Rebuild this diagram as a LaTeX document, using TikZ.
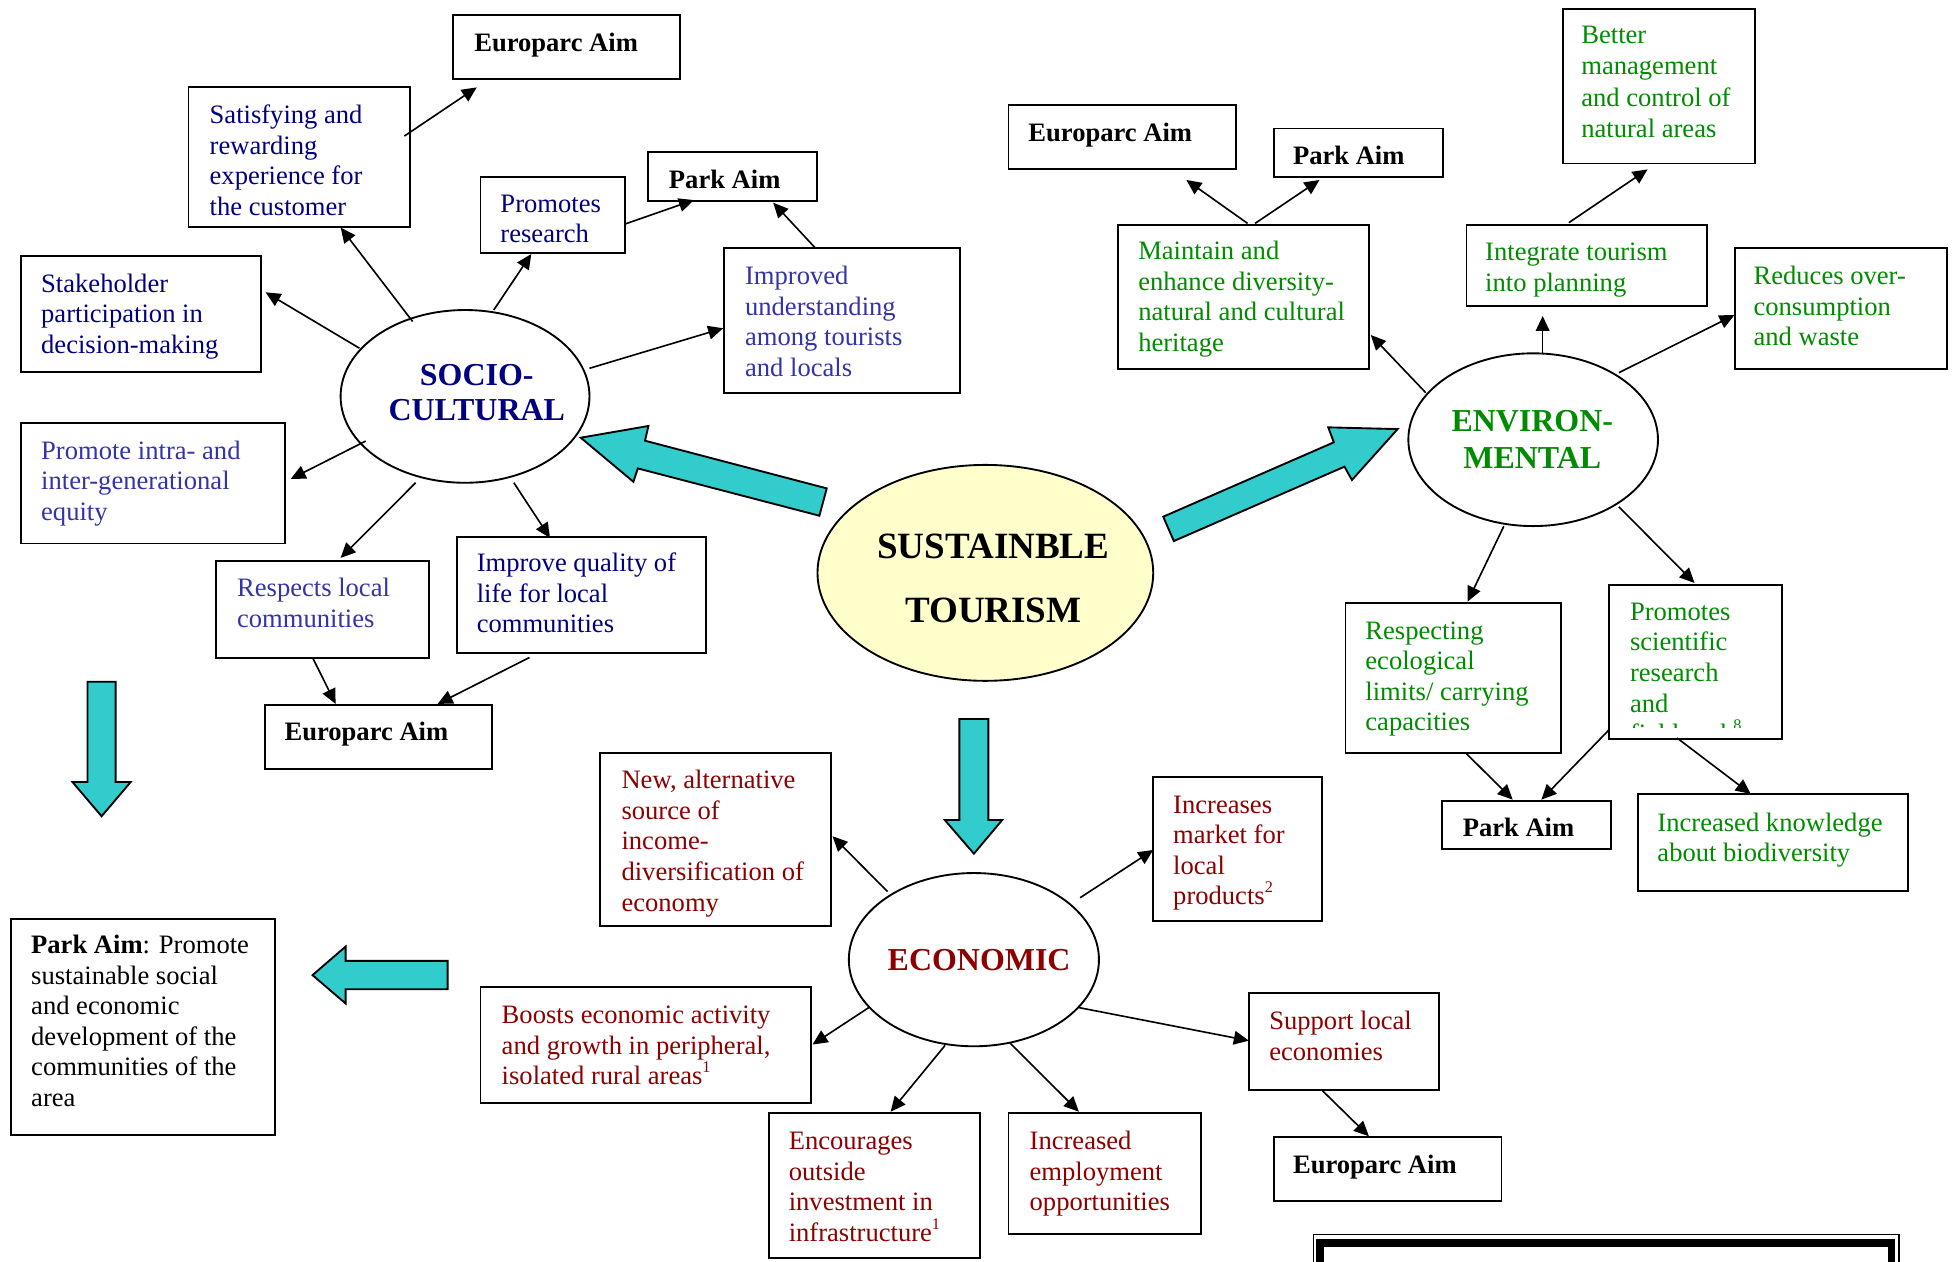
\documentclass[tikz,border=0pt]{standalone}
\usepackage{fontspec}
\setmainfont{Liberation Serif}
\usetikzlibrary{arrows.meta,shapes.geometric}
\definecolor{navy}{RGB}{0,0,128}
\definecolor{lblue}{RGB}{51,51,170}
\definecolor{grn}{RGB}{0,140,0}
\definecolor{dred}{RGB}{140,0,0}
\definecolor{cyanA}{RGB}{51,204,204}
\definecolor{yel}{RGB}{255,255,204}
\newcommand\mkbox[5]{\node[box,minimum width={(#4-#2)*1pt},minimum height={(#5-#3)*1pt}] (#1) at (#2,#3) {};}
\newcommand\sups[1]{\raisebox{0.45em}{\fontsize{13}{13}\selectfont #1}}
\begin{document}
\begin{tikzpicture}[x=1pt,y=-1pt,
  box/.style={draw,line width=1.5pt,inner sep=0pt,outer sep=0pt,anchor=north west,fill=white},
  txt/.style={anchor=base west,inner sep=0pt,outer sep=0pt,align=left,font=\fontsize{21.3}{24.5}\selectfont},
  btxt/.style={txt,font=\fontsize{21.3}{24.5}\selectfont\bfseries},
  ell/.style={draw,ellipse,line width=1.5pt,inner sep=0pt,outer sep=0pt,fill=white},
  etxt/.style={anchor=base,inner sep=0pt,align=center,font=\fontsize{25.6}{28}\selectfont\bfseries},
  conn/.style={line width=1.3pt,-{Triangle[length=12pt,width=11pt]}},
  bigarrow/.style={draw,line width=1.5pt,fill=cyanA,line join=miter}
]
\useasboundingbox (0,0) rectangle (1568,1011);
\clip (0,0) rectangle (1568,1011);

% ---------- ellipses ----------
\node[ell,minimum width=199.4pt,minimum height=138.4pt] (socio) at (372.6,317.6) {};
\node[ell,minimum width=200pt,minimum height=138.4pt] (env) at (1228.4,352.3) {};
\node[ell,minimum width=200.4pt,minimum height=138.8pt] (econ) at (780.3,768.9) {};
\node[ell,fill=yel,minimum width=269pt,minimum height=173pt] (tour) at (789.5,459) {};

% (multi-line nodes: the base anchor is the baseline of the last line)
\node[etxt,text=navy] (socio-t) at (382,337) {SOCIO-\\CULTURAL};
\node[etxt,text=grn,font=\fontsize{25.6}{30.3}\selectfont\bfseries] (env-t) at (1227.7,375.7) {ENVIRON-\\MENTAL};
\node[etxt,text=dred] (econ-t) at (784.5,777.4) {ECONOMIC};
\node[etxt,font=\fontsize{29.7}{51.3}\selectfont\bfseries] (tour-t) at (795.9,498.6) {SUSTAINBLE\\TOURISM};

% ---------- boxes ----------
\mkbox{eu1}{363}{12}{545}{63.5}
\mkbox{sat}{151}{70}{328.5}{182}
\mkbox{res}{385}{142}{501}{202.5}
\mkbox{park1}{519}{122}{654.5}{161}
\mkbox{stake}{16.5}{205}{209}{298}
\mkbox{impr}{580}{199}{769.5}{315}
\mkbox{intra}{16.5}{339}{228}{435.5}
\mkbox{resp}{173}{449.5}{344}{527}
\mkbox{qual}{366}{430}{566}{523}
\mkbox{eu2}{212}{565}{394}{616}
\mkbox{eu3}{808}{84}{990.5}{135.5}
\mkbox{park2}{1020.5}{103}{1156}{142}
\mkbox{better}{1252}{7}{1406}{131}
\mkbox{maint}{896}{180}{1097}{296}
\mkbox{integ}{1175}{180}{1368}{245.5}
\mkbox{reduc}{1390}{199}{1560}{296}
\mkbox{respg}{1078}{483}{1251}{603.5}
\mkbox{prosci}{1289}{469}{1428}{592}
\mkbox{park3}{1155.5}{641.5}{1290.5}{680}
\mkbox{know}{1312.5}{636.5}{1529}{714}
\mkbox{newalt}{481}{603}{666}{742}
\mkbox{incr}{924}{622.5}{1059.5}{738}
\mkbox{boost}{385}{791}{650}{884}
\mkbox{enc}{616}{892}{785.5}{1008}
\mkbox{empl}{808}{891.5}{962.5}{988.5}
\mkbox{supp}{1001}{795.5}{1153}{873}
\mkbox{eu4}{1020.5}{911}{1203}{962.5}
\mkbox{parkL}{8.5}{736.5}{220.5}{909.5}

% ---------- box texts ----------
\node[btxt] (eu1-t) at (380,41) {Europarc Aim};
\node[txt,text=navy] (sat-t) at (168,172.5) {Satisfying and\\rewarding\\experience for\\the customer};
\node[txt,text=navy] (res-t) at (401,194.5) {Promotes\\research};
\node[btxt] (park1-t) at (536,151) {Park Aim};
\node[txt,text=navy] (stake-t) at (33,283) {Stakeholder\\participation in\\decision-making};
\node[txt,text=lblue] (impr-t) at (597,301.5) {Improved\\understanding\\among tourists\\and locals};
\node[txt,text=lblue] (intra-t) at (33,417) {Promote intra- and\\inter-generational\\equity};
\node[txt,text=lblue] (resp-t) at (190,502.5) {Respects local\\communities};
\node[txt,text=navy] (qual-t) at (382,507) {Improve quality of\\life for local\\communities};
\node[btxt] (eu2-t) at (228,593.5) {Europarc Aim};

\node[btxt] (eu3-t) at (824,113) {Europarc Aim};
\node[btxt] (park2-t) at (1036,132) {Park Aim};
\node[txt,text=grn,font=\fontsize{21.3}{25}\selectfont] (better-t) at (1267,110) {Better\\management\\and control of\\natural areas};
\node[txt,text=grn] (maint-t) at (912,281.5) {Maintain and\\enhance diversity-\\natural and cultural\\heritage};
\node[txt,text=grn] (integ-t) at (1190,233.5) {Integrate tourism\\into planning};
\node[txt,text=grn] (reduc-t) at (1405,277) {Reduces over-\\consumption\\and waste};
\node[txt,text=grn] (respg-t) at (1094,585.5) {Respecting\\ecological\\limits/ carrying\\capacities};
\begin{scope}
\clip (1289,469) rectangle (1428,582.5);
\node[txt,text=grn] (prosci-t) at (1306,595) {Promotes\\scientific\\research\\and\\fieldwork\sups{8}};
\end{scope}
\node[btxt] (park3-t) at (1172,670) {Park Aim};
\node[txt,text=grn] (know-t) at (1328,690.5) {Increased knowledge\\about biodiversity};

\node[txt,text=dred] (newalt-t) at (498,730) {New, alternative\\source of\\income-\\diversification of\\economy};
\node[txt,text=dred] (incr-t) at (940,725) {Increases\\market for\\local\\products\sups{2}};
\node[txt,text=dred] (boost-t) at (402,869) {Boosts economic activity\\and growth in peripheral,\\isolated rural areas\sups{1}};
\node[txt,text=dred] (enc-t) at (632,994.5) {Encourages\\outside\\investment in\\infrastructure\sups{1}};
\node[txt,text=dred] (empl-t) at (825,970) {Increased\\employment\\opportunities};
\node[txt,text=dred] (supp-t) at (1017,849.5) {Support local\\economies};
\node[btxt] (eu4-t) at (1036,940) {Europarc Aim};
\node[txt] (parkL-t) at (25,886.5) {\textbf{Park Aim}: Promote\\sustainable social\\and economic\\development of the\\communities of the\\area};

% ---------- connectors: socio-cultural ----------
\draw[conn] ([shift={(173,39)}]sat.north west) -- ([shift={(19,58)}]eu1.north west);
\draw[conn] ([shift={(-42,-60)}]socio.center) -- ([shift={(122,112.4)}]sat.north west);
\draw[conn] ([shift={(-84.6,-38.6)}]socio.center) -- ([shift={(196.3,29.2)}]stake.north west);
\draw[conn] ([shift={(23,-69.2)}]socio.center) -- ([shift={(40.7,61.5)}]res.north west);
\draw[conn] ([shift={(115.8,37.5)}]res.north west) -- ([shift={(36.9,38.3)}]park1.north west);
\draw[conn] ([shift={(73.5,0)}]impr.north west) -- ([shift={(100.5,40.4)}]park1.north west);
\draw[conn] ([shift={(99.7,-22.5)}]socio.center) -- ([shift={(-0.6,64)}]impr.north west);
\draw[conn] ([shift={(-79.6,35.8)}]socio.center) -- ([shift={(216.4,44.8)}]intra.north west);
\draw[conn] ([shift={(-39.6,69.2)}]socio.center) -- ([shift={(99.9,-2.5)}]resp.north west);
\draw[conn] ([shift={(39.1,69.2)}]socio.center) -- ([shift={(74.7,1)}]qual.north west);
\draw[conn] ([shift={(77.4,77.3)}]resp.north west) -- ([shift={(56.9,-1)}]eu2.north west);
\draw[conn] ([shift={(58.2,96.8)}]qual.north west) -- ([shift={(138.6,-1)}]eu2.north west);

% ---------- connectors: environmental ----------
\draw[conn] ([shift={(103.6,-1)}]maint.north west) -- ([shift={(142.5,60.2)}]eu3.north west);
\draw[conn] ([shift={(109.6,-1)}]maint.north west) -- ([shift={(36.7,41.2)}]park2.north west);
\draw[conn] ([shift={(-86.1,-37.7)}]env.center) -- ([shift={(202.3,88.4)}]maint.north west);
\draw[conn] ([shift={(7.6,-69.7)}]env.center) -- ([shift={(61,73.2)}]integ.north west);
\draw[conn] ([shift={(82,-1.6)}]integ.north west) -- ([shift={(68.1,128.7)}]better.north west);
\draw[conn] ([shift={(68.7,-53.7)}]env.center) -- ([shift={(-0.3,53.4)}]reduc.north west);
\draw[conn] ([shift={(-23.5,69.3)}]env.center) -- ([shift={(97.9,-1)}]respg.north west);
\draw[conn] ([shift={(68.6,53.7)}]env.center) -- ([shift={(68.7,-1.9)}]prosci.north west);
\draw[conn] ([shift={(96.9,120.8)}]respg.north west) -- ([shift={(56.5,-0.8)}]park3.north west);
\draw[conn] ([shift={(0.6,115.3)}]prosci.north west) -- ([shift={(79.5,-0.8)}]park3.north west);
\draw[conn] ([shift={(54.7,122.3)}]prosci.north west) -- ([shift={(90.2,-0.4)}]know.north west);

% ---------- connectors: economic ----------
\draw[conn] ([shift={(-69.2,-54.6)}]econ.center) -- ([shift={(186,67)}]newalt.north west);
\draw[conn] ([shift={(-84.2,38.4)}]econ.center) -- ([shift={(266,45.9)}]boost.north west);
\draw[conn] ([shift={(-23.1,68.7)}]econ.center) -- ([shift={(97.6,-1.3)}]enc.north west);
\draw[conn] ([shift={(85.1,-49.6)}]econ.center) -- ([shift={(0,58.5)}]incr.north west);
\draw[conn] ([shift={(84.1,38.4)}]econ.center) -- ([shift={(-0.4,38.3)}]supp.north west);
\draw[conn] ([shift={(29,66.9)}]econ.center) -- ([shift={(56.4,-0.8)}]empl.north west);
\draw[conn] ([shift={(58.7,78.5)}]supp.north west) -- ([shift={(76.3,-0.6)}]eu4.north west);

% ---------- big block arrows ----------
\draw[bigarrow] (465.3,350.7) -- (519.5,341.3) -- (516.8,353.1) -- (662.4,391.3) -- (656.5,413.2) -- (511,375.3) -- (507.5,386) -- cycle;
\draw[bigarrow] (1119.8,343.8) -- (1064.2,342.4) -- (1068.7,354.4) -- (932,414) -- (940.5,433.5) -- (1077.2,373.9) -- (1083.2,384.6) -- cycle;
\draw[bigarrow] (768.7,576.1) -- (791.9,576.1) -- (791.9,657) -- (803,657) -- (780.3,684) -- (757,657) -- (768.7,657) -- cycle;
\draw[bigarrow] (70.1,546.2) -- (92.6,546.2) -- (92.6,626.6) -- (104.7,626.6) -- (81.4,654) -- (58.1,626.6) -- (70.1,626.6) -- cycle;
\draw[bigarrow] (250.4,781.3) -- (276.9,758.4) -- (276.9,769.9) -- (358.6,769.9) -- (358.6,792.6) -- (276.9,792.6) -- (276.9,804) -- cycle;

% ---------- double-framed box (bottom right) ----------
\draw[line width=1.2pt] (1052.2,1030) -- (1052.2,989) -- (1521.5,989) -- (1521.5,1030);
\draw[line width=6pt] (1057.5,1030) -- (1057.5,996) -- (1515.5,996) -- (1515.5,1030);
\end{tikzpicture}
\end{document}
